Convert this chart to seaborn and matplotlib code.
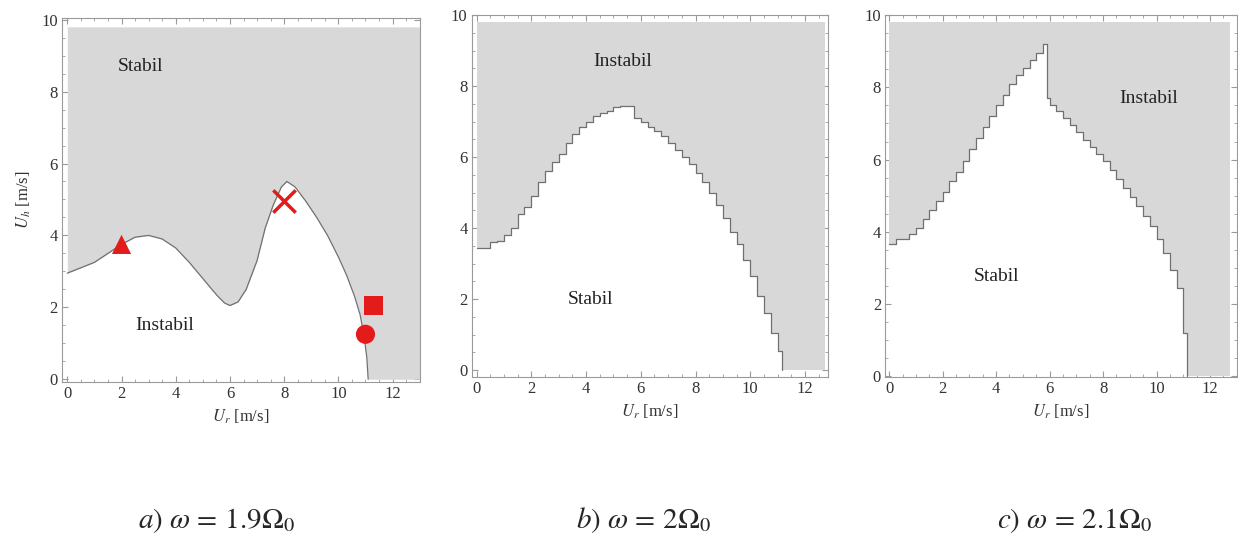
import numpy as np
import pandas as pd
import matplotlib
matplotlib.use("Agg")
import matplotlib.pyplot as plt
from matplotlib.ticker import MultipleLocator
import seaborn as sns

# Stability boundary, panel a (omega = 1.9 Omega_0)
ur_a = [0.0, 0.5, 1.0, 1.5, 2.0, 2.5, 3.0, 3.5, 4.0, 4.5, 5.0, 5.5, 5.8, 6.0, 6.3, 6.6,
        7.0, 7.3, 7.6, 7.9, 8.1, 8.4, 8.8, 9.2, 9.6, 10.0, 10.3, 10.6, 10.8, 10.95, 11.05,
        11.1, 13.0]
uh_a = [2.95, 3.1, 3.25, 3.5, 3.75, 3.95, 4.0, 3.9, 3.65, 3.25, 2.8, 2.35, 2.12, 2.05, 2.15, 2.5,
        3.3, 4.2, 4.85, 5.35, 5.5, 5.35, 4.95, 4.5, 4.0, 3.4, 2.9, 2.3, 1.8, 1.2, 0.6,
        0.0, 0.0]

# Panel b (omega = 2 Omega_0), stepped boundary every 0.25 m/s
ur_b = [0.0, 0.25, 0.5, 0.75, 1.0, 1.25, 1.5, 1.75, 2.0, 2.25, 2.5, 2.75, 3.0, 3.25, 3.5, 3.75,
        4.0, 4.25, 4.5, 4.75, 5.0, 5.25, 5.5, 5.75, 6.0, 6.25, 6.5, 6.75, 7.0, 7.25, 7.5, 7.75,
        8.0, 8.25, 8.5, 8.75, 9.0, 9.25, 9.5, 9.75, 10.0, 10.25, 10.5, 10.75, 11.0, 11.15, 12.75]
uh_b = [3.45, 3.45, 3.6, 3.65, 3.8, 4.0, 4.4, 4.6, 4.9, 5.3, 5.6, 5.85, 6.1, 6.4, 6.65, 6.85,
        7.0, 7.15, 7.25, 7.3, 7.4, 7.45, 7.45, 7.1, 7.0, 6.85, 6.75, 6.6, 6.4, 6.2, 6.0, 5.8,
        5.55, 5.3, 5.0, 4.65, 4.3, 3.9, 3.55, 3.1, 2.65, 2.1, 1.6, 1.05, 0.55, 0.0, 0.0]

# Panel c (omega = 2.1 Omega_0)
ur_c = [0.0, 0.25, 0.5, 0.75, 1.0, 1.25, 1.5, 1.75, 2.0, 2.25, 2.5, 2.75, 3.0, 3.25, 3.5, 3.75,
        4.0, 4.25, 4.5, 4.75, 5.0, 5.25, 5.5, 5.75, 5.9, 6.0, 6.25, 6.5, 6.75, 7.0, 7.25, 7.5,
        7.75, 8.0, 8.25, 8.5, 8.75, 9.0, 9.25, 9.5, 9.75, 10.0, 10.25, 10.5, 10.75, 11.0, 11.15, 12.75]
uh_c = [3.65, 3.8, 3.8, 3.95, 4.1, 4.35, 4.6, 4.85, 5.1, 5.4, 5.65, 5.95, 6.3, 6.6, 6.9, 7.2,
        7.5, 7.8, 8.1, 8.35, 8.55, 8.75, 8.95, 9.2, 7.7, 7.5, 7.35, 7.15, 6.95, 6.75, 6.55, 6.35,
        6.15, 5.95, 5.7, 5.45, 5.2, 4.95, 4.7, 4.45, 4.15, 3.8, 3.4, 2.95, 2.45, 1.2, 0.0, 0.0]

# Operating points marked in panel a
pt_x = [2.0, 8.0, 11.3, 11.0]
pt_y = [3.75, 4.95, 2.05, 1.25]
pt_marker = ["^", "x", "s", "o"]

captions = [r"$a)\ \omega\,=\,1.9\Omega_0$", r"$b)\ \omega\,=\,2\Omega_0$", r"$c)\ \omega\,=\,2.1\Omega_0$"]

sns.set_style("ticks")
plt.rcParams["font.family"] = ["Liberation Serif", "DejaVu Serif"]
plt.rcParams["mathtext.fontset"] = "stix"

gray = "#d8d8d8"
frame = "#9a9a9a"
fig = plt.figure(figsize=(12.38, 5.42), dpi=100)

axes = [fig.add_axes([0.050, 0.295, 0.289, 0.672]),
        fig.add_axes([0.381, 0.304, 0.288, 0.668]),
        fig.add_axes([0.715, 0.304, 0.284, 0.668])]

panels = [(ur_a, uh_a, "default", (-0.2, 13.0), (-0.08, 10.05)),
          (ur_b, uh_b, "steps-post", (-0.18, 12.85), (-0.2, 10.0)),
          (ur_c, uh_c, "steps-post", (-0.15, 13.0), (-0.03, 10.0))]

for ax, (xs, ys, ds, xl, yl) in zip(axes, panels):
    d = pd.DataFrame({"ur": xs, "uh": ys})
    step = "post" if ds == "steps-post" else None
    ax.fill_between(d["ur"], d["uh"], 9.8, step=step, color=gray, linewidth=0)
    sns.lineplot(data=d[d["ur"] < 11.2], x="ur", y="uh", ax=ax, color="#707070",
                 linewidth=0.9, drawstyle=ds, estimator=None, sort=False)
    ax.set_xlim(*xl)
    ax.set_ylim(*yl)
    ax.set_xticks([0, 2, 4, 6, 8, 10, 12])
    ax.set_yticks([0, 2, 4, 6, 8, 10])
    ax.xaxis.set_minor_locator(MultipleLocator(0.5))
    ax.yaxis.set_minor_locator(MultipleLocator(0.5))
    ax.tick_params(which="both", direction="in", top=True, right=True, color=frame,
                   labelsize=12, labelcolor="#333333", pad=3)
    ax.tick_params(which="major", length=4)
    ax.tick_params(which="minor", length=2)
    for s in ax.spines.values():
        s.set_color(frame)
        s.set_linewidth(0.8)
    ax.set_xlabel(r"$U_r$ [m/s]", fontsize=12, color="#333333", labelpad=4)
    ax.set_ylabel("")

axes[0].set_ylabel(r"$U_h$ [m/s]", fontsize=12, color="#333333", labelpad=6)

pts = pd.DataFrame({"x": pt_x, "y": pt_y, "m": pt_marker})
for _, r in pts.iterrows():
    if r["m"] == "x":
        sns.scatterplot(x=[r["x"]], y=[r["y"]], marker="x", s=260, color="#e41b1b",
                        linewidth=2.5, ax=axes[0], zorder=5)
    else:
        sns.scatterplot(x=[r["x"]], y=[r["y"]], marker=r["m"], s=190, color="#e41b1b",
                        edgecolor="none", ax=axes[0], zorder=5)

txt = dict(fontsize=14, color="#222222", ha="center", va="center")
axes[0].text(2.7, 8.7, "Stabil", **txt)
axes[0].text(3.6, 1.5, "Instabil", **txt)
axes[1].text(5.35, 8.7, "Instabil", **txt)
axes[1].text(4.15, 2.0, "Stabil", **txt)
axes[2].text(9.7, 7.7, "Instabil", **txt)
axes[2].text(4.0, 2.75, "Stabil", **txt)

for xc, cap in zip([0.175, 0.52, 0.868], captions):
    fig.text(xc, 0.04, cap, fontsize=21, ha="center", va="center", style="italic")

fig.savefig("out.png", dpi=100)
